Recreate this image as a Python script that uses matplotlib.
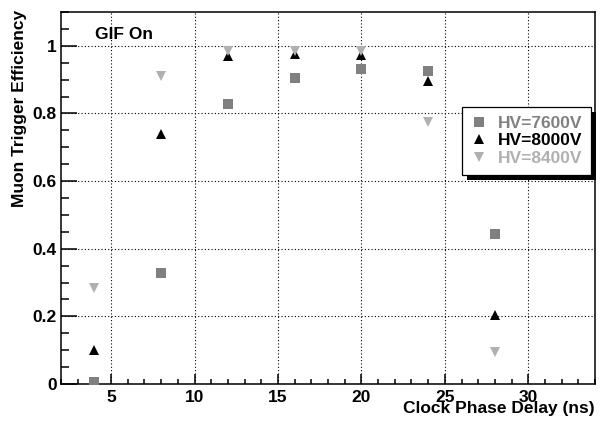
import matplotlib
matplotlib.use('Agg')
import matplotlib.pyplot as plt
from matplotlib.patches import Rectangle
from matplotlib.ticker import MultipleLocator

plt.rcParams['font.family'] = ['Liberation Sans', 'DejaVu Sans']
plt.rcParams['font.weight'] = 'bold'

# clock phase delay (ns)
delay = [4, 8, 12, 16, 20, 24, 28]

# trigger efficiency for each HV setting
eff_7600 = [0.005, 0.327, 0.829, 0.904, 0.931, 0.925, 0.444]
eff_8000 = [0.100, 0.739, 0.970, 0.975, 0.973, 0.896, 0.205]
eff_8400 = [0.285, 0.911, 0.984, 0.985, 0.985, 0.774, 0.095]

labels = ['HV=7600V', 'HV=8000V', 'HV=8400V']
xticks = [5, 10, 15, 20, 25, 30]
yticks = [0, 0.2, 0.4, 0.6, 0.8, 1.0]
ytick_labels = ['0', '0.2', '0.4', '0.6', '0.8', '1']

c_7600 = '#808080'
c_8000 = '#000000'
c_8400 = '#b0b0b0'

fig = plt.figure(figsize=(6.01, 4.29), dpi=100)
ax = fig.add_axes([61/601, 45/429, 534/601, 372/429])

ax.plot(delay, eff_7600, 's', color=c_7600, ms=7.6, mew=0, label=labels[0], zorder=3)
ax.plot(delay, eff_8000, '^', color=c_8000, ms=7.8, mew=0, label=labels[1], zorder=3)
ax.plot(delay, eff_8400, 'v', color=c_8400, ms=7.8, mew=0, label=labels[2], zorder=3)

ax.set_xlim(2, 34)
ax.set_ylim(0, 1.1)
ax.set_xticks(xticks)
ax.set_xticklabels([str(t) for t in xticks])
ax.set_yticks(yticks)
ax.set_yticklabels(ytick_labels)
ax.xaxis.set_minor_locator(MultipleLocator(1))
ax.yaxis.set_minor_locator(MultipleLocator(0.05))

ax.tick_params(axis='both', which='both', direction='in', top=False, right=False,
               labelsize=12.5, width=1.1)
ax.tick_params(axis='x', which='major', length=7.5, pad=4)
ax.tick_params(axis='x', which='minor', length=3.8)
ax.tick_params(axis='y', which='major', length=11.5, pad=3)
ax.tick_params(axis='y', which='minor', length=5.5)
for lab in ax.get_xticklabels() + ax.get_yticklabels():
  lab.set_fontweight('bold')

ax.grid(True, which='major', color='black', linestyle=(0, (1, 2)), linewidth=0.8)
for s in ax.spines.values():
  s.set_linewidth(1.1)

ax.set_xlabel('Clock Phase Delay (ns)', fontsize=12.5, fontweight='bold')
ax.xaxis.label.set_ha('right')
ax.xaxis.label.set_va('baseline')
ax.xaxis.set_label_coords(1.0, -0.078)

ax.set_ylabel('Muon Trigger Efficiency', fontsize=12.5, fontweight='bold')
ax.yaxis.label.set_ha('right')
ax.yaxis.label.set_va('baseline')
ax.yaxis.set_label_coords(-0.069, 1.005)

ax.text(0.064, 0.927, 'GIF On', transform=ax.transAxes, fontsize=12.5,
        fontweight='bold', va='baseline', ha='left')

leg = ax.legend(loc='upper left', bbox_to_anchor=(0.751, 0.745), borderaxespad=0,
                frameon=True, fancybox=False, edgecolor='black', framealpha=1,
                prop={'size': 12.5, 'weight': 'bold'}, handlelength=1.0,
                handletextpad=0.55, labelspacing=0.15, borderpad=0.5)
leg.get_frame().set_linewidth(0.9)
leg.set_zorder(6)
for txt, col in zip(leg.get_texts(), [c_7600, c_8000, c_8400]):
  txt.set_color(col)

# ROOT style drop shadow behind the legend
fig.canvas.draw()
bb = leg.get_window_extent()
shadow = Rectangle((bb.x0 + 5, bb.y0 - 5), bb.width, bb.height, transform=None,
                   facecolor='black', edgecolor='none', zorder=5.5, clip_on=False)
ax.add_artist(shadow)

fig.savefig('out.png', dpi=100)
